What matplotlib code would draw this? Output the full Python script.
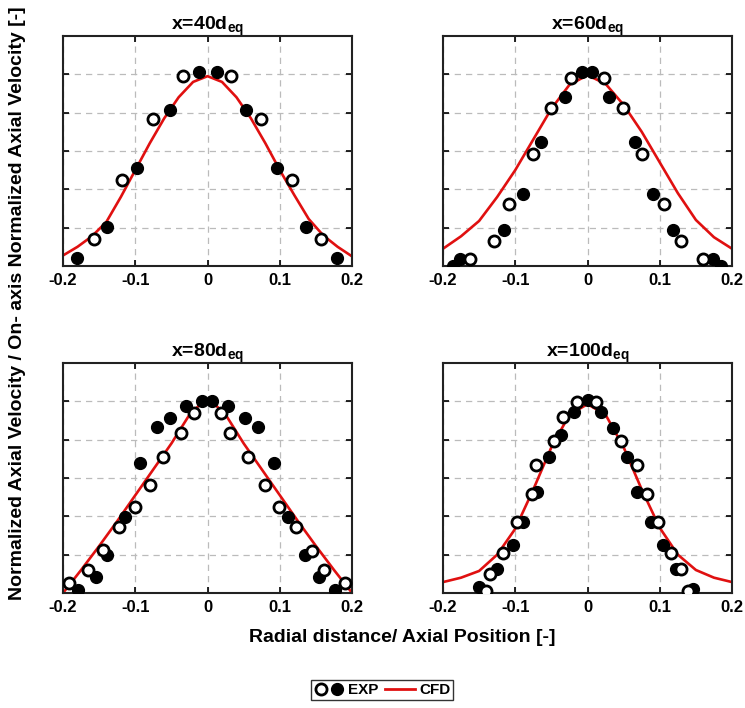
import numpy as np
import matplotlib.pyplot as plt
from matplotlib.lines import Line2D
from matplotlib.legend_handler import HandlerTuple

plt.rcParams['font.family'] = ['Liberation Sans', 'DejaVu Sans']
plt.rcParams['font.weight'] = 'bold'
plt.rcParams['mathtext.fontset'] = 'custom'
plt.rcParams['mathtext.rm'] = 'Liberation Sans:bold'
plt.rcParams['mathtext.it'] = 'Liberation Sans:bold'
plt.rcParams['mathtext.bf'] = 'Liberation Sans:bold'

# --- donnees ---
titres = [r"x=40d$_{\mathrm{eq}}$", r"x=60d$_{\mathrm{eq}}$",
          r"x=80d$_{\mathrm{eq}}$", r"x=100d$_{\mathrm{eq}}$"]

# x = 40 deq
plein_x_40 = [-0.180, -0.139, -0.098, -0.052, -0.0125, 0.013, 0.053, 0.096, 0.136, 0.179]
plein_y_40 = [0.042, 0.205, 0.510, 0.811, 1.014, 1.014, 0.811, 0.510, 0.205, 0.042]
vide_x_40 = [-0.157, -0.119, -0.076, -0.034, 0.032, 0.074, 0.117, 0.157]
vide_y_40 = [0.143, 0.449, 0.767, 0.991, 0.991, 0.769, 0.449, 0.143]
cfd_x_40 = [-0.2, -0.18, -0.16, -0.14, -0.12, -0.10, -0.08, -0.06, -0.04, -0.02, 0.0,
            0.02, 0.04, 0.06, 0.08, 0.10, 0.12, 0.14, 0.16, 0.18, 0.2]
cfd_y_40 = [0.055, 0.10, 0.155, 0.23, 0.36, 0.50, 0.64, 0.77, 0.88, 0.96, 0.99,
            0.96, 0.88, 0.77, 0.64, 0.50, 0.37, 0.245, 0.16, 0.10, 0.05]

# x = 60 deq
plein_x_60 = [-0.186, -0.176, -0.116, -0.089, -0.064, -0.031, -0.007, 0.006,
              0.030, 0.066, 0.091, 0.118, 0.174, 0.185]
plein_y_60 = [0.0, 0.038, 0.187, 0.374, 0.645, 0.883, 1.012, 1.012,
              0.883, 0.645, 0.374, 0.187, 0.038, 0.0]
vide_x_60 = [-0.162, -0.130, -0.109, -0.076, -0.050, -0.023,
             0.023, 0.049, 0.076, 0.106, 0.129, 0.160]
vide_y_60 = [0.038, 0.131, 0.323, 0.584, 0.825, 0.979,
             0.979, 0.825, 0.584, 0.323, 0.131, 0.038]
cfd_x_60 = [-0.2, -0.175, -0.15, -0.125, -0.1, -0.075, -0.05, -0.025, 0.0,
            0.025, 0.05, 0.075, 0.1, 0.125, 0.15, 0.175, 0.2]
cfd_y_60 = [0.09, 0.155, 0.235, 0.36, 0.50, 0.66, 0.82, 0.945, 0.995,
            0.95, 0.84, 0.70, 0.54, 0.38, 0.24, 0.15, 0.09]

# x = 80 deq
plein_x_80 = [-0.179, -0.155, -0.139, -0.114, -0.094, -0.070, -0.052, -0.030, -0.008,
              0.006, 0.028, 0.052, 0.070, 0.092, 0.111, 0.135, 0.154, 0.176]
plein_y_80 = [0.017, 0.083, 0.196, 0.399, 0.677, 0.865, 0.913, 0.977, 1.003,
              1.003, 0.977, 0.913, 0.865, 0.677, 0.399, 0.196, 0.083, 0.017]
vide_x_80 = [-0.192, -0.165, -0.144, -0.123, -0.101, -0.079, -0.061, -0.037, -0.019,
             0.018, 0.031, 0.056, 0.079, 0.099, 0.122, 0.145, 0.161, 0.190]
vide_y_80 = [0.052, 0.122, 0.222, 0.344, 0.448, 0.561, 0.708, 0.835, 0.937,
             0.937, 0.835, 0.708, 0.561, 0.448, 0.344, 0.219, 0.122, 0.052]
cfd_x_80 = [-0.2, -0.175, -0.15, -0.125, -0.1, -0.075, -0.05, -0.025, -0.0125, 0.0,
            0.0125, 0.025, 0.05, 0.075, 0.1, 0.125, 0.15, 0.175, 0.2]
cfd_y_80 = [0.0, 0.12, 0.245, 0.375, 0.51, 0.645, 0.78, 0.93, 0.975, 0.99,
            0.975, 0.93, 0.78, 0.645, 0.51, 0.375, 0.245, 0.12, 0.0]

# x = 100 deq
plein_x_100 = [-0.150, -0.125, -0.103, -0.089, -0.070, -0.053, -0.037, -0.018, 0.0,
               0.019, 0.035, 0.054, 0.069, 0.088, 0.105, 0.122, 0.146]
plein_y_100 = [0.031, 0.127, 0.248, 0.370, 0.526, 0.708, 0.826, 0.944, 1.007,
               0.944, 0.861, 0.708, 0.526, 0.370, 0.248, 0.127, 0.023]
vide_x_100 = [-0.141, -0.135, -0.117, -0.098, -0.077, -0.071, -0.047, -0.034, -0.014,
              0.012, 0.047, 0.069, 0.082, 0.098, 0.116, 0.130, 0.139]
vide_y_100 = [0.009, 0.097, 0.208, 0.370, 0.514, 0.670, 0.795, 0.920, 0.995,
              0.995, 0.795, 0.670, 0.514, 0.370, 0.208, 0.127, 0.009]
cfd_x_100 = [-0.2, -0.175, -0.15, -0.125, -0.1, -0.075, -0.05, -0.025, 0.0,
             0.025, 0.05, 0.075, 0.1, 0.125, 0.15, 0.175, 0.2]
cfd_y_100 = [0.057, 0.08, 0.115, 0.20, 0.335, 0.54, 0.76, 0.93, 0.985,
             0.93, 0.76, 0.54, 0.34, 0.20, 0.12, 0.08, 0.057]

series = [
    (plein_x_40, plein_y_40, vide_x_40, vide_y_40, cfd_x_40, cfd_y_40),
    (plein_x_60, plein_y_60, vide_x_60, vide_y_60, cfd_x_60, cfd_y_60),
    (plein_x_80, plein_y_80, vide_x_80, vide_y_80, cfd_x_80, cfd_y_80),
    (plein_x_100, plein_y_100, vide_x_100, vide_y_100, cfd_x_100, cfd_y_100),
]

xticks = [-0.2, -0.1, 0, 0.1, 0.2]
xtick_labels = ["-0.2", "-0.1", "0", "0.1", "0.2"]
yticks = [0.2, 0.4, 0.6, 0.8, 1.0]

# --- figure ---
fig = plt.figure(figsize=(7.45, 7.08), dpi=100)
positions = [
    [0.0846, 0.6243, 0.388, 0.325],
    [0.5946, 0.6243, 0.388, 0.325],
    [0.0846, 0.1624, 0.388, 0.325],
    [0.5946, 0.1624, 0.388, 0.325],
]

for pos, titre, (px, py, vx, vy, cx, cy) in zip(positions, titres, series):
    ax = fig.add_axes(pos)
    ax.plot(cx, cy, color="#e01010", lw=1.9, zorder=2)
    ax.plot(px, py, 'o', ms=8.5, color="black", zorder=3)
    ax.plot(vx, vy, 'o', ms=8, mfc="white", mec="black", mew=2, zorder=3)
    ax.set_xlim(-0.2, 0.2)
    ax.set_ylim(0, 1.2)
    ax.set_xticks(xticks)
    ax.set_xticklabels(xtick_labels, fontsize=12, fontweight="bold")
    ax.set_yticks(yticks)
    ax.set_yticklabels([])
    ax.tick_params(direction="in", length=4, width=1.2, top=True, right=True, pad=5)
    ax.grid(True, ls=(0, (5, 4)), color="#bbbbbb", lw=0.9)
    for s in ax.spines.values():
        s.set_linewidth(1.5)
        s.set_color("#222222")
    ax.set_title(titre, fontsize=14, fontweight="bold", pad=4)

fig.text(0.024, 0.572, "Normalized Axial Velocity / On- axis Normalized Axial Velocity [-]",
         rotation=90, ha="center", va="center", fontsize=14, fontweight="bold")
fig.text(0.54, 0.1, "Radial distance/ Axial Position [-]",
         ha="center", va="center", fontsize=14, fontweight="bold")

# legende
h_vide = Line2D([], [], ls="none", marker="o", ms=8, mfc="white", mec="black", mew=2)
h_plein = Line2D([], [], ls="none", marker="o", ms=8.5, color="black")
h_cfd = Line2D([], [], color="#e01010", lw=2)
leg = fig.legend([(h_vide, h_plein), h_cfd], ["EXP", "CFD"],
                 handler_map={tuple: HandlerTuple(ndivide=None, pad=0.05)},
                 loc="center", bbox_to_anchor=(0.513, 0.025), ncol=2,
                 frameon=True, fancybox=False, edgecolor="black",
                 prop={"weight": "bold", "size": 11}, handlelength=2.0,
                 handletextpad=0.25, columnspacing=0.4, borderpad=0.2,
                 borderaxespad=0)
leg.get_frame().set_linewidth(1.0)

fig.savefig("out.png", dpi=100)
